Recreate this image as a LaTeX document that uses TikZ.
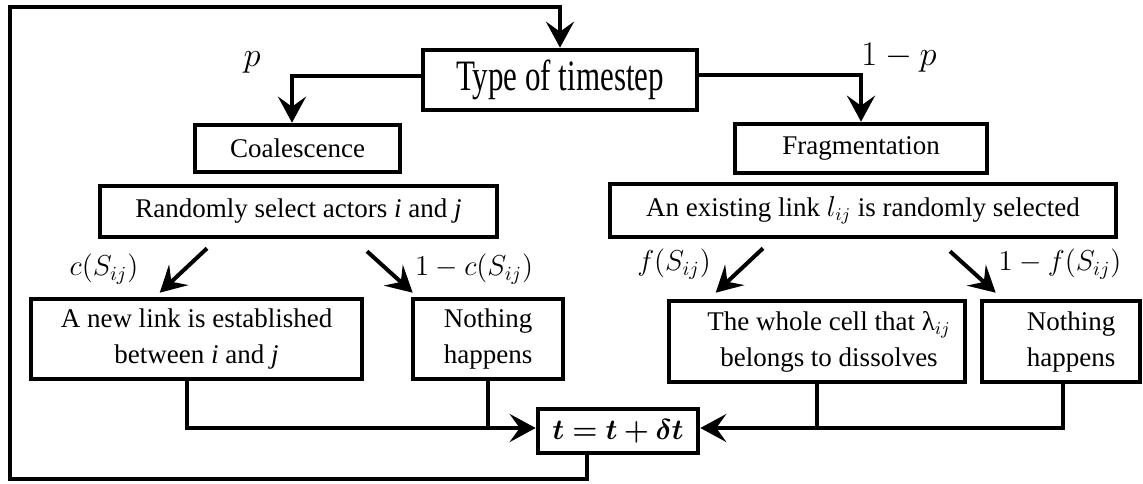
\documentclass[tikz,border=0pt]{standalone}
\usepackage{fontspec}
\setmainfont{Liberation Serif}
\usepackage{amsmath}
\usepackage{bm}
\usepackage{graphicx}
\usetikzlibrary{arrows.meta}

\begin{document}
\begin{tikzpicture}[
  x=0.5pt, y=-0.5pt,
  >={Stealth[length=13pt, width=14pt, inset=5pt]},
  box/.style={draw, line width=2.3pt, inner sep=0pt, align=center,
    font=\rmfamily\fontsize{13.5}{18}\selectfont},
  flow/.style={->, line width=2pt},
  link/.style={line width=2pt},
  prob/.style={font=\fontsize{14}{16}\selectfont},
  bigprob/.style={font=\fontsize{16.5}{19}\selectfont}
]
\useasboundingbox (0,0) rectangle (1143,483);

% Type of timestep
\node[box, minimum width=137pt, minimum height=30pt,
  font=\rmfamily\fontsize{15.5}{18}\selectfont] (type) at (560,80)
  {\scalebox{1}[1.4]{Type of timestep}};

% Coalescence branch
\node[box, minimum width=102.5pt, minimum height=23.5pt] (coal) at (297.5,148.5) {Coalescence};
\node[box, minimum width=198.5pt, minimum height=25.5pt] (rand) at (298.5,211.5)
  {Randomly select actors \textit{i} and \textit{j}};
\node[box, minimum width=165.5pt, minimum height=40pt] (newlink) at (196.5,339)
  {A new link is established\\between \textit{i} and \textit{j}};
\node[box, minimum width=75pt, minimum height=40pt] (noth1) at (488,339)
  {Nothing\\happens};

% Fragmentation branch
\node[box, minimum width=126pt, minimum height=24.5pt] (frag) at (861,148.5) {Fragmentation};
\node[box, minimum width=253pt, minimum height=26.5pt] (exist) at (863,210.5)
  {An existing link $l_{ij}$ is randomly selected};
\node[box, minimum width=148pt, minimum height=40.5pt] (whole) at (817,341.5)
  {\hspace*{12pt}The whole cell that λ$_{ij}$\\\hspace*{12pt}belongs to dissolves};
\node[box, minimum width=79pt, minimum height=40.5pt] (noth2) at (1061,341.5)
  {\hspace*{10pt}Nothing\\\hspace*{10pt}happens};

% Time update
\node[box, minimum width=80pt, minimum height=22pt, font=\fontsize{14}{16}\selectfont]
  (tbox) at (618,431) {$\bm{t = t + \delta t}$};

% Probabilities
\node[bigprob] (pl) at (252,62) {$p$};
\node[bigprob] (pr) at (899,58) {$1-p$};
\node[prob] (cl) at (104,269) {$c(S_{ij})$};
\node[prob] (cr) at (474,269) {$1-c(S_{ij})$};
\node[prob] (fl) at (674,264) {$f(S_{ij})$};
\node[prob] (fr) at (1060,264) {$1-f(S_{ij})$};

% Connectors
\draw[flow] ([yshift=2pt]type.west) -| ([xshift=-2.75pt]coal.north);
\draw[flow] ([yshift=2.5pt]type.east) -| (frag.north);
\draw[flow] ([xshift=-45.75pt,yshift=-4.5pt]rand.south) -- ([xshift=65.5pt,yshift=2pt]newlink.north west);
\draw[flow] ([xshift=34.25pt,yshift=-6pt]rand.south) -- ([xshift=1pt,yshift=2pt]noth1.north west);
\draw[flow] ([xshift=-50pt,yshift=-4.5pt]exist.south) -- ([xshift=24.5pt,yshift=3pt]whole.north west);
\draw[flow] ([xshift=43.5pt,yshift=-6pt]exist.south) -- ([xshift=8pt,yshift=3pt]noth2.north west);

\coordinate (jl) at ([yshift=1.5pt]tbox.west);
\coordinate (jr) at ([yshift=1.5pt]tbox.east);
\draw[flow] ([xshift=-4.75pt]newlink.south) |- (jl);
\draw[link] (noth1.south) -- (noth1.south |- jl);
\draw[flow] ([xshift=1pt]noth2.south) |- (jr);
\draw[link] (whole.south) -- (whole.south |- jr);

% Loop back to the next timestep
\coordinate (loopbot) at (10,479);
\coordinate (looptop) at (10,7);
\draw[flow] ([xshift=-15.5pt]tbox.south) |- (loopbot) -- (looptop) -| (type.north);
\end{tikzpicture}
\end{document}
